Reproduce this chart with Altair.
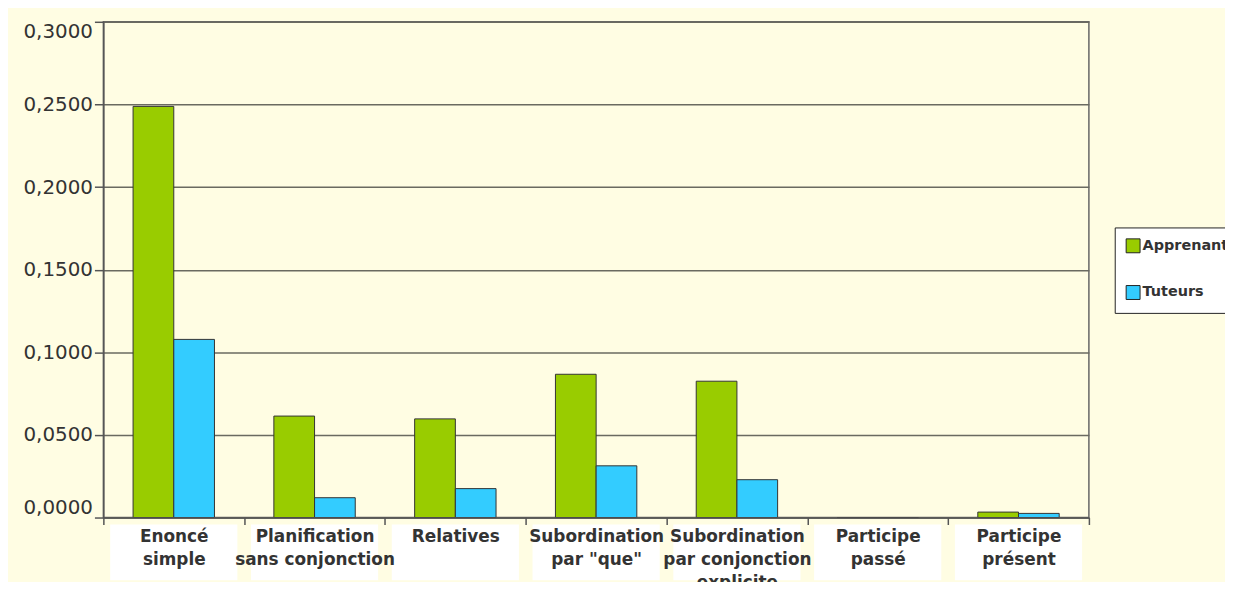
import altair as alt
import pandas as pd

categories = [
    "Enoncé\nsimple",
    "Planification\nsans conjonction",
    "Relatives",
    "Subordination\npar \"que\"",
    "Subordination\npar conjonction\nexplicite",
    "Participe\npassé",
    "Participe\nprésent",
]
series = ["Apprenants", "Tuteurs"]
apprenants = [0.2488, 0.0614, 0.0597, 0.0867, 0.0825, 0.0, 0.0033]
tuteurs = [0.1078, 0.0120, 0.0175, 0.0313, 0.0229, 0.0, 0.0025]
y_ticks = [0.0, 0.05, 0.10, 0.15, 0.20, 0.25, 0.30]

rows = []
for c, a, t in zip(categories, apprenants, tuteurs):
    rows.append({"cat": c, "serie": series[0], "val": a})
    rows.append({"cat": c, "serie": series[1], "val": t})
df = pd.DataFrame(rows)
boxes = pd.DataFrame({"cat": categories})

BG = "#FFFDE3"
FONT = "DejaVu Sans"

x_enc = alt.X(
    "cat:N",
    sort=categories,
    scale=alt.Scale(paddingInner=0, paddingOuter=0),
    axis=alt.Axis(
        title=None,
        labelExpr="split(datum.label, '\\n')",
        labelAngle=0,
        labelAlign="center",
        labelFont=FONT,
        labelFontWeight="bold",
        labelFontSize=17,
        labelColor="#333333",
        labelLineHeight=23,
        labelPadding=4,
        labelBaseline="top",
        tickBand="extent",
        tickSize=7,
        tickColor="#555555",
        tickWidth=1.5,
        domainColor="#555555",
        domainWidth=1.5,
        labelLimit=300,
        labelOverlap=False,
        zindex=1,
    ),
)

label_boxes = alt.Chart(boxes).mark_bar(color="white", width=128, clip=False).encode(
    x=alt.X("cat:N", sort=categories),
    y=alt.value(506),
    y2=alt.value(562),
)

bars = alt.Chart(df).mark_bar(stroke="#333333", strokeWidth=1).encode(
    x=x_enc,
    xOffset=alt.XOffset(
        "serie:N",
        sort=series,
        scale=alt.Scale(paddingOuter=0.73, paddingInner=0),
    ),
    y=alt.Y(
        "val:Q",
        scale=alt.Scale(domain=[0, 0.3], nice=False),
        axis=alt.Axis(
            title=None,
            values=y_ticks,
            labelExpr="replace(format(datum.value, '.4f'), '.', ',')",
            labelFont=FONT,
            labelFontSize=20,
            labelColor="#333333",
            labelFlush=True,
            labelPadding=2,
            tickSize=9,
            tickColor="#555555",
            tickWidth=1.5,
            domainColor="#555555",
            domainWidth=1.5,
            grid=True,
            gridColor="#6a6a60",
            gridWidth=1.5,
        ),
    ),
    color=alt.Color(
        "serie:N",
        sort=series,
        scale=alt.Scale(domain=series, range=["#99CC00", "#33CCFF"]),
        legend=alt.Legend(
            title=None,
            orient="none",
            legendX=1018,
            legendY=207,
            fillColor="white",
            strokeColor="#222222",
            padding=11,
            symbolType="square",
            symbolSize=196,
            symbolStrokeColor="#222222",
            symbolStrokeWidth=1,
            labelFont=FONT,
            labelFontWeight="bold",
            labelFontSize=14.5,
            labelColor="#333333",
            labelOffset=2,
            rowPadding=28,
        ),
    ),
)

chart = alt.layer(label_boxes, bars).properties(
    width=992,
    height=499,
    background=BG,
    padding={"left": 96, "top": 12, "right": 137, "bottom": 63},
    autosize=alt.AutoSizeParams(type="none"),
).configure_view(
    fill=BG,
    stroke="#666666",
    strokeWidth=1.5,
)

chart.save("out.html", embed_options={"renderer": "svg", "actions": False})
